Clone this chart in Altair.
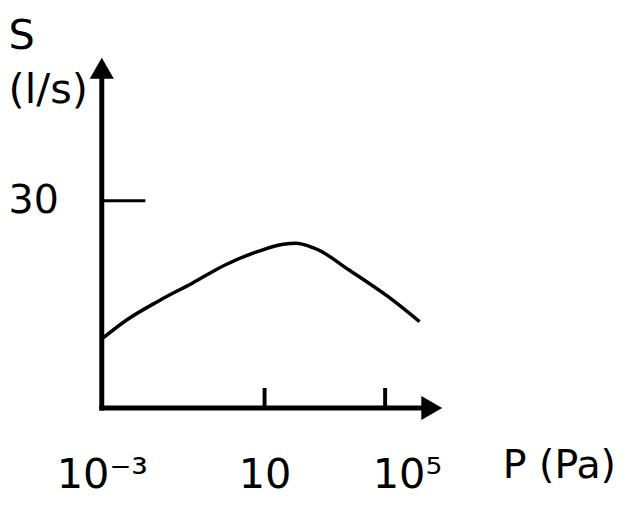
import altair as alt
import pandas as pd

# curve (x in axis units along the schematic log-P axis, y in l/s)
p_pos = [0.0, 0.72, 1.71, 2.67, 3.62, 4.61, 5.33, 5.71, 6.09, 6.35, 7.25, 8.41, 9.33]
s_vals = [10.0, 12.7, 15.6, 18.1, 20.7, 22.7, 23.7, 23.85, 23.4, 22.9, 20.0, 16.1, 12.5]

x_tick_pos = [0.0, 4.78, 8.32]
x_tick_labels = ["10⁻³", "10", "10⁵"]
y_tick_vals = [30]

X_MAX = 10.0
Y_MAX = 50.7
FONT = "DejaVu Sans"
FS = 42

xs = alt.Scale(domain=[0, X_MAX], nice=False, zero=False)
ys = alt.Scale(domain=[0, Y_MAX], nice=False, zero=False)

# label expression built from the tick arrays
expr = "'" + x_tick_labels[-1] + "'"
for i in range(len(x_tick_pos) - 2, -1, -1):
    mid = (x_tick_pos[i] + x_tick_pos[i + 1]) / 2
    expr = f"datum.value < {mid} ? '{x_tick_labels[i]}' : ({expr})"

xa = alt.Axis(
    values=x_tick_pos, labelExpr=expr, domain=False, ticks=False, tickSize=0, grid=False,
    labelFont=FONT, labelFontSize=FS, labelColor="black", labelPadding=48,
    labelFlush=False, labelOverlap=False,
    labelOffset={"condition": {"test": "datum.value > 8", "value": 22}, "value": 0},
    title="P (Pa)", titleFont=FONT, titleFontSize=40, titleFontWeight="normal",
    titleColor="black", titleX=463, titleY=58, titleAlign="center", titleBaseline="middle")
ya = alt.Axis(
    values=y_tick_vals, domain=False, ticks=False, tickSize=0, grid=False,
    labelFont=FONT, labelFontSize=40, labelColor="black", labelPadding=44,
    title=["S", "(l/s)"], titleFont=FONT, titleFontSize=FS, titleFontWeight="normal",
    titleColor="black", titleAngle=0, titleAlign="left", titleBaseline="top",
    titleX=-95, titleY=-42, titleLineHeight=55)

curve = pd.DataFrame({"p": p_pos, "s": s_vals})

line = alt.Chart(curve).mark_line(color="black", strokeWidth=3.5, interpolate="monotone").encode(
    x=alt.X("p:Q", scale=xs, axis=xa),
    y=alt.Y("s:Q", scale=ys, axis=ya),
)

# axis lines (end at arrow bases)
ax_v = alt.Chart(pd.DataFrame({"p": [0.0], "s": [0.0], "s2": [Y_MAX - 3.3]})).mark_rule(
    color="black", strokeWidth=5, strokeCap="square").encode(
    x=alt.X("p:Q", scale=xs, axis=xa), y=alt.Y("s:Q", scale=ys, axis=ya), y2="s2:Q")
ax_h = alt.Chart(pd.DataFrame({"p": [0.0], "p2": [X_MAX - 0.65], "s": [0.0]})).mark_rule(
    color="black", strokeWidth=5, strokeCap="square").encode(
    x=alt.X("p:Q", scale=xs, axis=xa), x2="p2:Q", y=alt.Y("s:Q", scale=ys, axis=ya))

# inward ticks
n = len(x_tick_pos) - 1
xt = pd.DataFrame({"p": x_tick_pos[1:], "s": [0.0] * n, "s2": [2.9] * n})
x_ticks = alt.Chart(xt).mark_rule(color="black", strokeWidth=4).encode(
    x=alt.X("p:Q", scale=xs, axis=xa), y=alt.Y("s:Q", scale=ys, axis=ya), y2="s2:Q")
yt = pd.DataFrame({"p": [0.0] * len(y_tick_vals), "p2": [1.28] * len(y_tick_vals), "s": y_tick_vals})
y_ticks = alt.Chart(yt).mark_rule(color="black", strokeWidth=3).encode(
    x=alt.X("p:Q", scale=xs, axis=xa), x2="p2:Q", y=alt.Y("s:Q", scale=ys, axis=ya))

# arrowheads
arr_up = alt.Chart(pd.DataFrame({"p": [0.0], "s": [Y_MAX - 1.55]})).mark_point(
    shape="triangle-up", size=600, filled=True, color="black", opacity=1).encode(
    x=alt.X("p:Q", scale=xs, axis=xa), y=alt.Y("s:Q", scale=ys, axis=ya))
arr_right = alt.Chart(pd.DataFrame({"p": [X_MAX - 0.31], "s": [0.0]})).mark_point(
    shape="triangle-right", size=600, filled=True, color="black", opacity=1).encode(
    x=alt.X("p:Q", scale=xs, axis=xa), y=alt.Y("s:Q", scale=ys, axis=ya))

chart = alt.layer(ax_v, ax_h, x_ticks, y_ticks, line, arr_up, arr_right).properties(
    width=345, height=355,
    autosize=alt.AutoSizeParams(type="none"),
    padding={"left": 95, "top": 47, "right": 183, "bottom": 94},
    background="white",
).configure_view(strokeWidth=0)

chart.save("out.html", embed_options={"renderer": "svg", "actions": False})
